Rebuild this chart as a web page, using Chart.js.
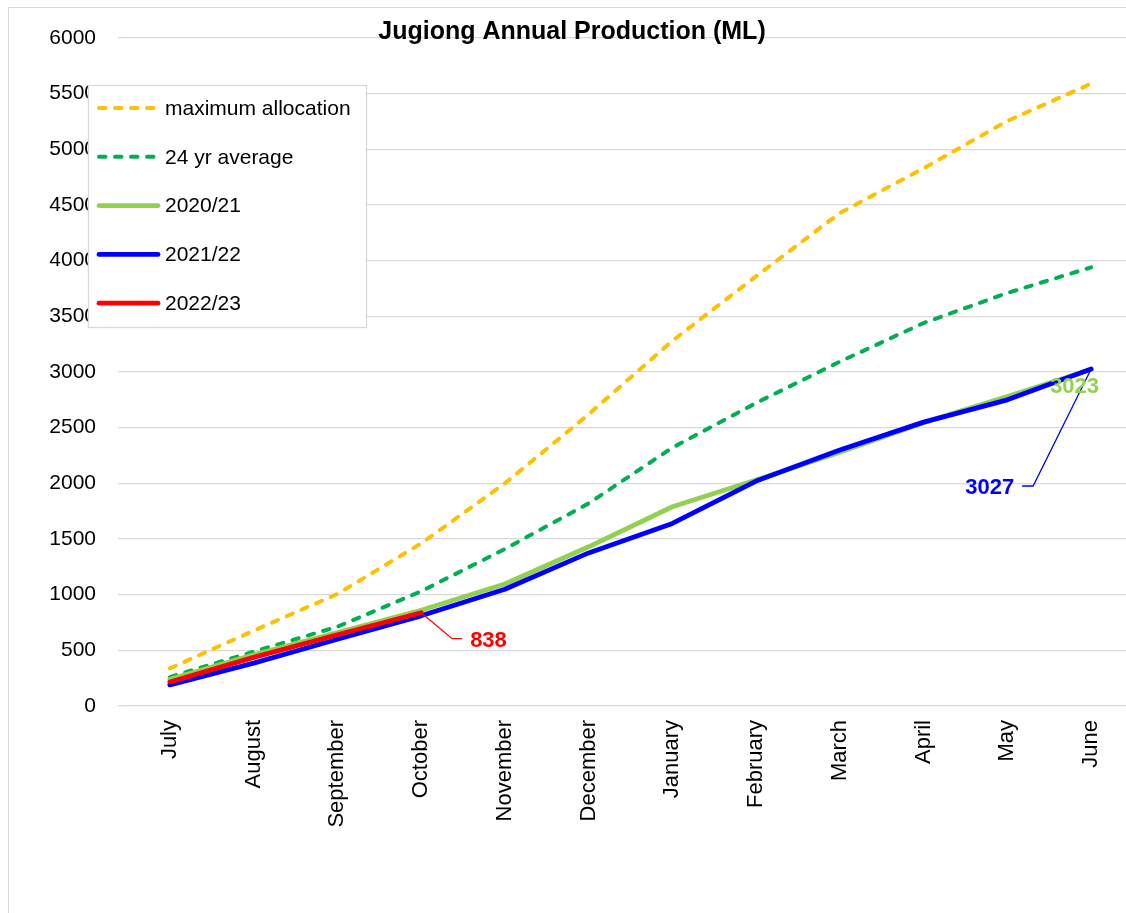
<!DOCTYPE html>
<html>
<head>
<meta charset="utf-8">
<script src="https://cdn.jsdelivr.net/npm/chart.js@4.4.1/dist/chart.umd.min.js"></script>
<style>
  html, body { margin: 0; padding: 0; background: #fff; overflow: hidden; width: 1126px; height: 913px; }
  #frame { position: absolute; left: 8px; top: 7px; width: 1300px; height: 1000px; border: 1px solid #d9d9d9; }
  #wrap { position: absolute; left: 0; top: 0; width: 1140px; height: 913px; }
</style>
</head>
<body>
<div id="frame"></div>
<div id="wrap"><canvas id="chart" width="1140" height="913"></canvas></div>
<script>
const FONT = "'Liberation Sans', Arial, sans-serif";
const TITLE = "Jugiong Annual Production (ML)";

const months = ["July", "August", "September", "October", "November", "December",
                "January", "February", "March", "April", "May", "June"];
const maxAllocation = [338, 676, 1006, 1460, 2000, 2620, 3280, 3860, 4428, 4830, 5255, 5590];
const avg24yr = [260, 488, 712, 1030, 1410, 1820, 2320, 2722, 3093, 3440, 3710, 3940];
const y2020_21 = [240, 460, 660, 860, 1096, 1430, 1790, 2030, 2280, 2545, 2780, 3023];
const y2021_22 = [190, 385, 600, 810, 1048, 1375, 1640, 2020, 2300, 2550, 2750, 3027];
const y2022_23 = [215, 437, 640, 838];

function line(label, data, color, width, dash, order) {
    return {
        label,
        data,
        borderColor: color,
        backgroundColor: color,
        borderWidth: width,
        borderDash: dash,
        borderCapStyle: "round",
        borderJoinStyle: "round",
        pointRadius: 0,
        tension: 0,
        fill: false,
        order,
    };
}

// draws title, in-plot legend and the end-point labels
const decor = {
    id: "decor",
    afterDraw(chart) {
        const ctx = chart.ctx;
        const xs = chart.scales.x;
        const ys = chart.scales.y;
        const sets = chart.data.datasets;
        ctx.save();

        ctx.font = `bold 25px ${FONT}`;
        ctx.fillStyle = "#000";
        ctx.textAlign = "center";
        ctx.textBaseline = "middle";
        ctx.fillText(TITLE, 572, 32);

        // legend
        ctx.fillStyle = "#fff";
        ctx.fillRect(88.5, 85.5, 278, 242);
        ctx.strokeStyle = "#d9d9d9";
        ctx.lineWidth = 1.3;
        ctx.strokeRect(88.5, 85.5, 278, 242);
        sets.forEach((ds, i) => {
            const yy = 108 + i * 48.8;
            ctx.strokeStyle = ds.borderColor;
            ctx.lineWidth = ds.borderWidth;
            ctx.lineCap = "round";
            ctx.setLineDash(ds.borderDash || []);
            ctx.beginPath();
            ctx.moveTo(99, yy);
            ctx.lineTo(158, yy);
            ctx.stroke();
            ctx.setLineDash([]);
            ctx.font = `21px ${FONT}`;
            ctx.fillStyle = "#000";
            ctx.textAlign = "left";
            ctx.fillText(ds.label, 165, yy + 1);
        });

        const endPoint = (data) => {
            const i = data.length - 1;
            return { v: data[i], px: xs.getPixelForValue(i), py: ys.getPixelForValue(data[i]) };
        };
        ctx.font = `bold 22px ${FONT}`;
        ctx.lineWidth = 1.3;
        ctx.lineCap = "butt";

        // 2022/23
        let p = endPoint(y2022_23);
        ctx.strokeStyle = "#FF0000";
        ctx.beginPath();
        ctx.moveTo(p.px, p.py);
        ctx.lineTo(p.px + 31, p.py + 26);
        ctx.lineTo(p.px + 41, p.py + 26);
        ctx.stroke();
        ctx.fillStyle = "#FF0000";
        ctx.textAlign = "left";
        ctx.fillText(String(p.v), p.px + 49, p.py + 28);

        // 2021/22
        p = endPoint(y2021_22);
        ctx.strokeStyle = "#0000FF";
        ctx.beginPath();
        ctx.moveTo(p.px, p.py);
        ctx.lineTo(p.px - 58, p.py + 117);
        ctx.lineTo(p.px - 69, p.py + 117);
        ctx.stroke();
        ctx.fillStyle = "#0000FF";
        ctx.textAlign = "right";
        ctx.fillText(String(p.v), p.px - 77, p.py + 119);

        // 2020/21
        p = endPoint(y2020_21);
        ctx.fillStyle = "#92D050";
        ctx.textAlign = "left";
        ctx.fillText(String(p.v), p.px - 41, p.py + 17);

        ctx.restore();
    },
};

new Chart(document.getElementById("chart"), {
    type: "line",
    data: {
        labels: months,
        datasets: [
            line("maximum allocation", maxAllocation, "#FFC000", 4, [6.5, 9.5], 4),
            line("24 yr average", avg24yr, "#00B050", 4, [6.5, 9.5], 3),
            line("2020/21", y2020_21, "#92D050", 4.8, [], 2),
            line("2021/22", y2021_22, "#0000FF", 4.8, [], 1),
            line("2022/23", y2022_23, "#FF0000", 4.8, [], 0),
        ],
    },
    options: {
        responsive: false,
        devicePixelRatio: 1,
        animation: false,
        layout: { padding: { top: 38, left: 0, right: 7, bottom: 0 } },
        plugins: {
            legend: { display: false },
            tooltip: { enabled: false },
        },
        scales: {
            x: {
                type: "category",
                offset: true,
                grid: { display: false, drawTicks: false },
                border: { display: false },
                ticks: {
                    autoSkip: false,
                    maxRotation: 90,
                    minRotation: 90,
                    padding: 14,
                    color: "#000",
                    font: { family: FONT, size: 22 },
                },
                afterFit: (scale) => { scale.height = 207; },
            },
            y: {
                min: 0,
                max: 6000,
                ticks: {
                    stepSize: 500,
                    padding: 22,
                    color: "#000",
                    font: { family: FONT, size: 21 },
                    callback: (value) => value,
                },
                grid: { color: "#d9d9d9", lineWidth: 1.3, tickLength: 10 },
                border: { display: false },
                afterFit: (scale) => { scale.width = 128; },
            },
        },
    },
    plugins: [decor],
});
</script>
</body>
</html>
